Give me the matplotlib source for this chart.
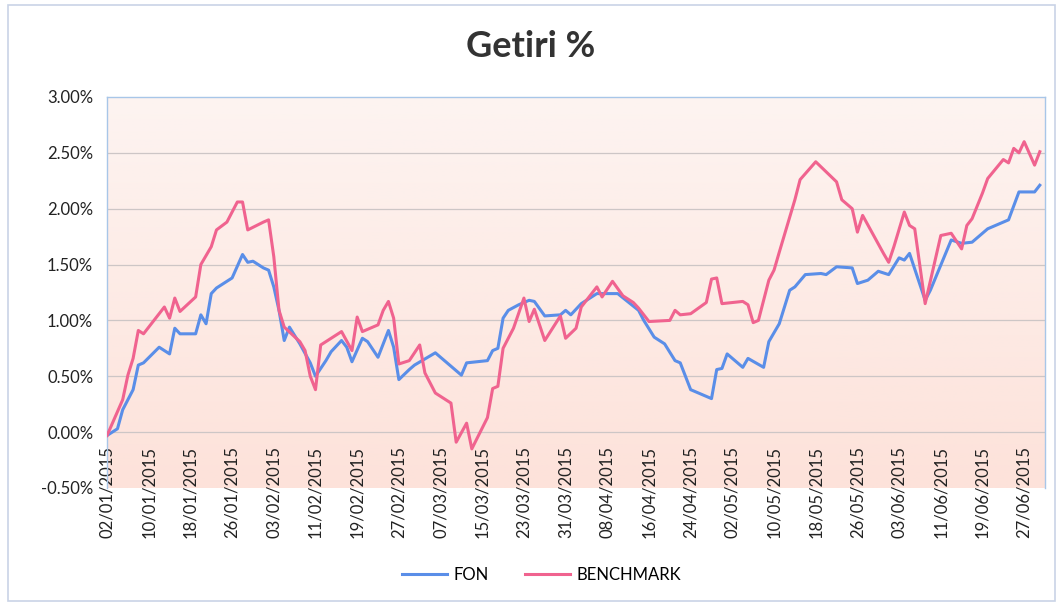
import numpy as np
import pandas as pd
import matplotlib
matplotlib.use("Agg")
import matplotlib.pyplot as plt
import matplotlib.dates as mdates
from matplotlib.patches import Rectangle
from matplotlib.ticker import FuncFormatter

plt.rcParams['font.family'] = ['Lato', 'DejaVu Sans']

# FON series (date, return %)
fon_dates = [
    "2015-01-02", "2015-01-04", "2015-01-05", "2015-01-07", "2015-01-08", "2015-01-09",
    "2015-01-12", "2015-01-14", "2015-01-15", "2015-01-16", "2015-01-19", "2015-01-20",
    "2015-01-21", "2015-01-22", "2015-01-23", "2015-01-26", "2015-01-28", "2015-01-29",
    "2015-01-30", "2015-02-01", "2015-02-02", "2015-02-03", "2015-02-04", "2015-02-05",
    "2015-02-06", "2015-02-08", "2015-02-10", "2015-02-11", "2015-02-13", "2015-02-14",
    "2015-02-16", "2015-02-17", "2015-02-18", "2015-02-20", "2015-02-21", "2015-02-23",
    "2015-02-25", "2015-02-26", "2015-02-27", "2015-03-01", "2015-03-02", "2015-03-06",
    "2015-03-11", "2015-03-12", "2015-03-16", "2015-03-17", "2015-03-18", "2015-03-19",
    "2015-03-20", "2015-03-22", "2015-03-24", "2015-03-25", "2015-03-27", "2015-03-30",
    "2015-03-31", "2015-04-01", "2015-04-03", "2015-04-06", "2015-04-10", "2015-04-14",
    "2015-04-15", "2015-04-17", "2015-04-19", "2015-04-21", "2015-04-22", "2015-04-24",
    "2015-04-28", "2015-04-29", "2015-04-30", "2015-05-01", "2015-05-04", "2015-05-05",
    "2015-05-08", "2015-05-09", "2015-05-11", "2015-05-13", "2015-05-14", "2015-05-16",
    "2015-05-19", "2015-05-20", "2015-05-22", "2015-05-25", "2015-05-26", "2015-05-28",
    "2015-05-30", "2015-06-01", "2015-06-03", "2015-06-04", "2015-06-05", "2015-06-08",
    "2015-06-09", "2015-06-13", "2015-06-15", "2015-06-17", "2015-06-20", "2015-06-24",
    "2015-06-26", "2015-06-29", "2015-06-30",
]
fon_values = [
    -0.03, 0.03, 0.20, 0.38, 0.60, 0.62,
    0.76, 0.70, 0.93, 0.88, 0.88, 1.05,
    0.97, 1.24, 1.29, 1.38, 1.59, 1.52,
    1.53, 1.47, 1.45, 1.30, 1.09, 0.82,
    0.94, 0.79, 0.62, 0.50, 0.64, 0.72,
    0.82, 0.76, 0.63, 0.84, 0.81, 0.67,
    0.91, 0.76, 0.47, 0.56, 0.60, 0.71,
    0.51, 0.62, 0.64, 0.73, 0.75, 1.02,
    1.09, 1.14, 1.18, 1.17, 1.04, 1.05,
    1.09, 1.05, 1.15, 1.24, 1.24, 1.09,
    1.00, 0.85, 0.79, 0.64, 0.62, 0.38,
    0.30, 0.56, 0.57, 0.70, 0.58, 0.66,
    0.58, 0.81, 0.97, 1.27, 1.30, 1.41,
    1.42, 1.41, 1.48, 1.47, 1.33, 1.36,
    1.44, 1.41, 1.56, 1.54, 1.60, 1.18,
    1.27, 1.72, 1.69, 1.70, 1.82, 1.90,
    2.15, 2.15, 2.21,
]

# BENCHMARK series (date, return %)
bench_dates = [
    "2015-01-02", "2015-01-05", "2015-01-06", "2015-01-07", "2015-01-08", "2015-01-09",
    "2015-01-13", "2015-01-14", "2015-01-15", "2015-01-16", "2015-01-19", "2015-01-20",
    "2015-01-22", "2015-01-23", "2015-01-25", "2015-01-27", "2015-01-28", "2015-01-29",
    "2015-02-01", "2015-02-02", "2015-02-03", "2015-02-04", "2015-02-05", "2015-02-08",
    "2015-02-09", "2015-02-10", "2015-02-11", "2015-02-12", "2015-02-14", "2015-02-16",
    "2015-02-18", "2015-02-19", "2015-02-20", "2015-02-23", "2015-02-24", "2015-02-25",
    "2015-02-26", "2015-02-27", "2015-03-01", "2015-03-03", "2015-03-04", "2015-03-06",
    "2015-03-09", "2015-03-10", "2015-03-12", "2015-03-13", "2015-03-16", "2015-03-17",
    "2015-03-18", "2015-03-19", "2015-03-21", "2015-03-23", "2015-03-24", "2015-03-25",
    "2015-03-27", "2015-03-30", "2015-03-31", "2015-04-02", "2015-04-03", "2015-04-06",
    "2015-04-07", "2015-04-09", "2015-04-11", "2015-04-13", "2015-04-14", "2015-04-16",
    "2015-04-20", "2015-04-21", "2015-04-22", "2015-04-24", "2015-04-27", "2015-04-28",
    "2015-04-29", "2015-04-30", "2015-05-04", "2015-05-05", "2015-05-06", "2015-05-07",
    "2015-05-09", "2015-05-10", "2015-05-11", "2015-05-14", "2015-05-15", "2015-05-18",
    "2015-05-22", "2015-05-23", "2015-05-25", "2015-05-26", "2015-05-27", "2015-05-31",
    "2015-06-01", "2015-06-02", "2015-06-04", "2015-06-05", "2015-06-06", "2015-06-08",
    "2015-06-11", "2015-06-13", "2015-06-15", "2015-06-16", "2015-06-17", "2015-06-19",
    "2015-06-20", "2015-06-23", "2015-06-24", "2015-06-25", "2015-06-26", "2015-06-27",
    "2015-06-29", "2015-06-30",
]
bench_values = [
    -0.03, 0.29, 0.51, 0.66, 0.91, 0.88,
    1.12, 1.02, 1.20, 1.08, 1.21, 1.50,
    1.66, 1.81, 1.88, 2.06, 2.06, 1.81,
    1.88, 1.90, 1.57, 1.09, 0.94, 0.81,
    0.73, 0.50, 0.38, 0.78, 0.84, 0.90,
    0.73, 1.03, 0.90, 0.96, 1.09, 1.17,
    1.02, 0.61, 0.64, 0.78, 0.53, 0.35,
    0.26, -0.09, 0.08, -0.15, 0.13, 0.39,
    0.41, 0.75, 0.93, 1.20, 0.99, 1.10,
    0.82, 1.04, 0.84, 0.93, 1.12, 1.30,
    1.21, 1.35, 1.22, 1.16, 1.11, 0.99,
    1.00, 1.09, 1.05, 1.06, 1.16, 1.37,
    1.38, 1.15, 1.17, 1.14, 0.98, 1.00,
    1.36, 1.45, 1.61, 2.08, 2.26, 2.42,
    2.24, 2.08, 2.00, 1.79, 1.94, 1.60,
    1.52, 1.66, 1.97, 1.85, 1.82, 1.15,
    1.76, 1.78, 1.64, 1.85, 1.91, 2.14,
    2.27, 2.44, 2.41, 2.54, 2.50, 2.60,
    2.39, 2.51,
]

y_ticks = [-0.5, 0.0, 0.5, 1.0, 1.5, 2.0, 2.5, 3.0]

fon = pd.Series(fon_values, index=pd.to_datetime(fon_dates))
bench = pd.Series(bench_values, index=pd.to_datetime(bench_dates))

fig = plt.figure(figsize=(10.62, 6.08), dpi=100)
fig.patches.append(Rectangle((0.008, 0.012), 0.985, 0.98, transform=fig.transFigure,
                             fill=False, edgecolor='#c9d3e6', linewidth=1.2))
ax = fig.add_axes([0.1008, 0.1974, 0.8832, 0.6431])

start = pd.Timestamp("2015-01-02")
end = pd.Timestamp("2015-07-01")
x0, x1 = mdates.date2num(start), mdates.date2num(end)

# pink gradient background of the plot area
grad = np.linspace(0, 1, 256).reshape(-1, 1)
top = np.array([253, 244, 241]) / 255
bot = np.array([253, 226, 218]) / 255
img = top * (1 - grad[..., None]) + bot * grad[..., None]
img = np.repeat(img, 2, axis=1)
ax.imshow(img, extent=[x0, x1, -0.5, 3.0], aspect='auto', origin='upper', zorder=0)

for yv in y_ticks[1:-1]:
    ax.axhline(yv, color='#cdc6c6', linewidth=0.9, zorder=1)

ax.plot(fon.index, fon.values, color='#5a8ee8', linewidth=2.2, label='FON', zorder=3)
ax.plot(bench.index, bench.values, color='#f0638f', linewidth=2.2, label='BENCHMARK', zorder=4)

ax.set_xlim(x0, x1)
ax.set_ylim(-0.5, 3.0)
ax.set_yticks(y_ticks)
ax.yaxis.set_major_formatter(FuncFormatter(lambda v, p: f"{v:.2f}%"))

# horizontal axis crosses at 0 like the Excel chart; labels sit just below it
ax.spines['bottom'].set_position(('data', 0.0))
ax.spines['bottom'].set_visible(False)
tick_dates = pd.date_range(start, "2015-06-27", freq="8D")
ax.set_xticks(mdates.date2num(tick_dates))
ax.set_xticklabels([d.strftime("%d/%m/%Y") for d in tick_dates], rotation=90)
ax.tick_params(axis='both', length=0, labelsize=12, colors='#222222')
ax.tick_params(axis='x', pad=10)
ax.tick_params(axis='y', pad=10)

for side in ['top', 'left', 'right']:
    ax.spines[side].set_color('#a8c6e8')
    ax.spines[side].set_linewidth(1.0)

fig.suptitle("Getiri %", y=0.95, fontsize=26, fontweight='bold', color='#333333')

fig.legend(loc='center', bbox_to_anchor=(0.51, 0.054), ncol=2, frameon=False,
           fontsize=12, handlelength=2.7, columnspacing=2.2, handletextpad=0.4)

fig.savefig("out.png", dpi=100)
